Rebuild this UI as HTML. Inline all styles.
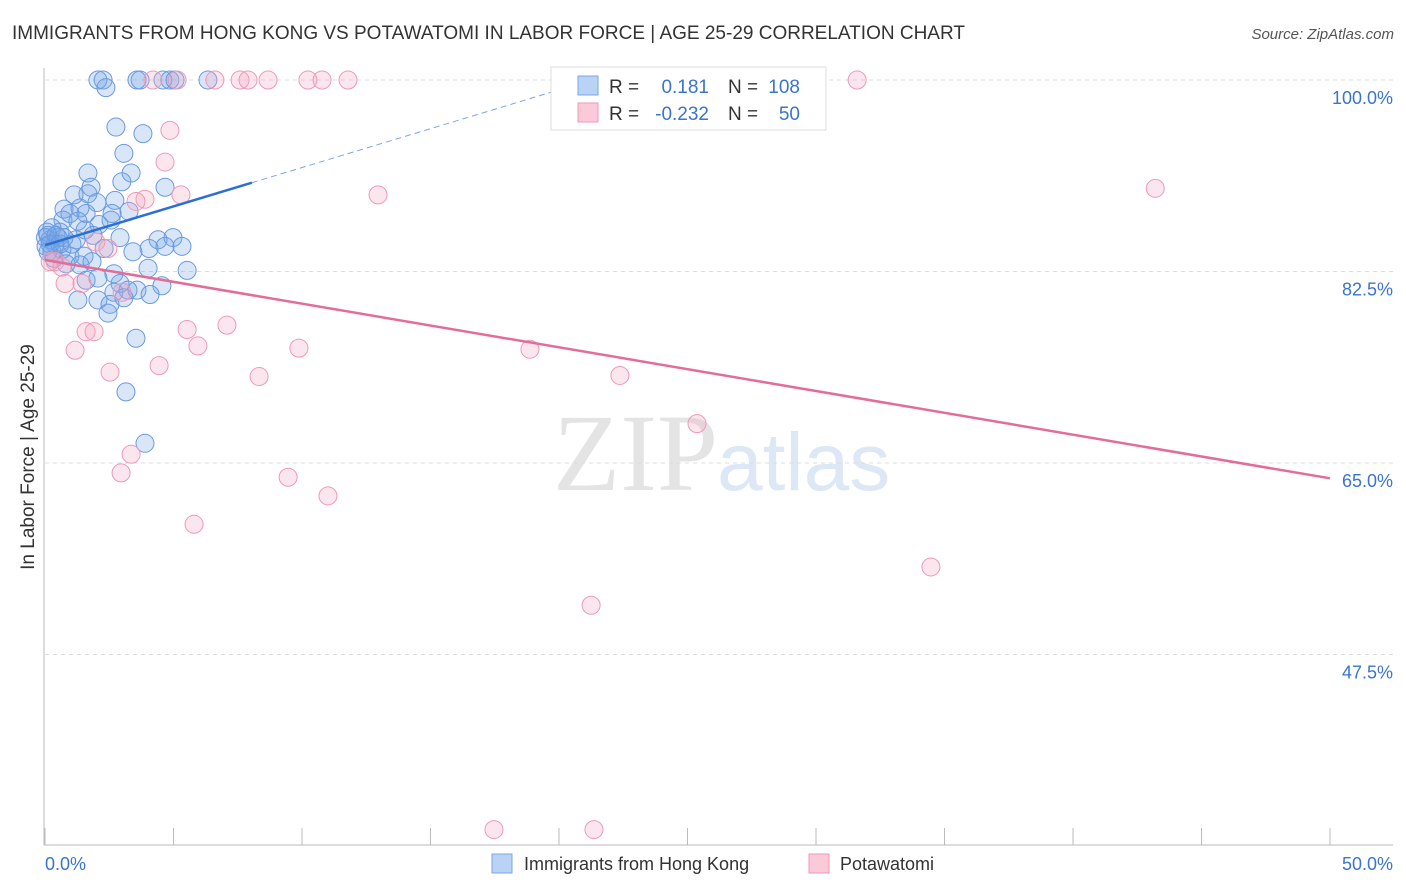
<!DOCTYPE html>
<html><head><meta charset="utf-8"><style>
body{margin:0;background:#fff;font-family:"Liberation Sans",sans-serif;}
svg{display:block}
</style></head><body>
<svg id="chart" width="1406" height="892">
<text x="12" y="39" font-size="19" fill="#333">IMMIGRANTS FROM HONG KONG VS POTAWATOMI IN LABOR FORCE | AGE 25-29 CORRELATION CHART</text>
<text x="1394" y="39" font-size="15" fill="#555" font-style="italic" text-anchor="end">Source: ZipAtlas.com</text>
<g>
<text x="553" y="490" font-size="110" fill="#e4e4e4" font-family="Liberation Serif,serif">ZIP</text>
<text x="717" y="490" font-size="82" fill="#dde8f6">atlas</text>
</g>
<g id="grid"></g>
<line x1="44" y1="68" x2="44" y2="845" stroke="#bbb"/>
<line x1="44" y1="845" x2="1393" y2="845" stroke="#bbb"/>
<g id="xticks"></g>
<text transform="translate(34,457) rotate(-90)" font-size="19" fill="#333" text-anchor="middle">In Labor Force | Age 25-29</text>
<g id="pts"></g>
<g id="trend"></g>
<g>
<rect x="551" y="67" width="275" height="63" fill="#fff" stroke="#ddd"/>
<rect x="578" y="76" width="20" height="19" fill="#b9d3f5" stroke="#7aa7e6"/>
<rect x="578" y="103" width="20" height="19" fill="#fbc9d8" stroke="#ee9ab5"/>
<text x="609" y="93" font-size="19" fill="#333">R =</text>
<text x="709" y="93" font-size="19" fill="#3a74d0" text-anchor="end">0.181</text>
<text x="728" y="93" font-size="19" fill="#333">N =</text>
<text x="800" y="93" font-size="19" fill="#3a74d0" text-anchor="end">108</text>
<text x="609" y="120" font-size="19" fill="#333">R =</text>
<text x="709" y="120" font-size="19" fill="#3a74d0" text-anchor="end">-0.232</text>
<text x="728" y="120" font-size="19" fill="#333">N =</text>
<text x="800" y="120" font-size="19" fill="#3a74d0" text-anchor="end">50</text>
</g>
<g>
<rect x="492" y="854" width="20" height="19" fill="#b9d3f5" stroke="#7aa7e6"/>
<text x="524" y="870" font-size="18" fill="#333">Immigrants from Hong Kong</text>
<rect x="809" y="854" width="20" height="19" fill="#fbc9d8" stroke="#ee9ab5"/>
<text x="840" y="870" font-size="18" fill="#333">Potawatomi</text>
</g>
</svg>
<script>
const yTicks=[100,82.5,65,47.5];
const yTickLabels=["100.0%","82.5%","65.0%","47.5%"];
const xEnds=[0,50];
const xEndLabels=["0.0%","50.0%"];
const blueX=[2.06,2.26,2.37,3.58,3.70,4.59,4.86,5.06,6.34,2.76,3.81,3.07,3.35,1.67,2.99,4.67,1.79,1.13,1.67,2.72,2.02,0.74,1.36,1.60,0.97,2.61,3.27,0.70,1.28,2.57,2.10,0.27,0.58,1.56,1.87,2.92,4.40,4.98,5.33,4.67,4.05,3.42,2.30,1.21,0.19,0.12,0.39,0.66,0.97,1.52,0.35,0.04,0.08,0.51,0.82,1.36,1.83,4.01,5.53,2.68,1.60,2.06,2.92,3.58,4.55,3.23,2.68,4.09,3.07,1.28,2.06,2.53,2.45,3.54,3.15,3.89,0.02,0.20,0.43,0.27,0.58,0.12,0.74,1.05];
const blueY=[100,100,99.3,100,100,100,100,100,100,95.7,95.1,93.3,91.5,91.5,90.7,90.2,90.2,89.5,89.6,89.0,88.8,88.2,88.3,87.8,87.8,87.8,88.0,87.2,87.1,87.2,86.8,86.5,86.1,86.3,85.8,85.6,85.4,85.6,84.8,84.8,84.6,84.3,84.6,85.4,85.4,85.8,85.0,84.5,83.9,83.9,83.7,84.8,86.1,85.6,83.2,83.1,83.4,82.8,82.6,82.3,81.7,81.9,81.4,80.8,81.2,80.8,80.6,80.4,80.1,79.9,79.9,79.5,78.7,76.4,71.5,66.8,85.6,85.0,85.8,84.3,85.0,84.3,85.6,85.0];
const pinkX=[4.20,5.14,6.61,7.59,7.90,8.68,10.23,10.78,11.79,31.6,4.86,4.67,3.89,5.29,12.96,3.54,43.2,1.98,2.45,0.39,0.78,1.44,3.00,1.60,1.91,5.53,7.08,1.17,5.95,9.88,18.87,2.53,4.44,8.33,22.37,25.37,3.35,2.96,9.46,11.01,5.80,34.47,21.25,17.47,21.36,0.20,0.66];
const pinkY=[100,100,100,100,100,100,100,100,100,100,95.4,92.5,89.1,89.5,89.5,88.9,90.1,85.2,84.6,83.4,81.4,81.4,80.6,77.0,77.0,77.2,77.6,75.3,75.7,75.5,75.4,73.3,73.9,72.9,73.0,68.6,65.8,64.1,63.7,62.0,59.4,55.5,52.0,31.5,31.5,83.4,82.9];
const blueTrend=[84.9,0.71];   // intercept, slope
const pinkTrend=[83.55,-0.399];
const X=v=>45+v/50*1285;
const Y=v=>80+(100-v)/17.5*191.5;
const NS="http://www.w3.org/2000/svg";
function mk(tag,attrs,parent){const e=document.createElementNS(NS,tag);for(const k in attrs)e.setAttribute(k,attrs[k]);parent.appendChild(e);return e;}
const grid=document.getElementById('grid');
yTicks.forEach((t,i)=>{
 const l=mk('line',{x1:45,x2:1393,y1:Y(t),y2:Y(t),stroke:'#ddd','stroke-dasharray':'4,4'},grid);
 
 
 const tx=mk('text',{x:1393,y:Y(t)+24,'font-size':18,fill:'#3a74d0','text-anchor':'end'},grid);
 tx.textContent=yTickLabels[i];
 
 
});
const xt=document.getElementById('xticks');
for(let i=0;i<=10;i++){
 const l=mk('line',{x1:X(i*5),x2:X(i*5),y1:828,y2:845,stroke:'#bbb'},xt);
 
 
}
xEnds.forEach((v,i)=>{
 const tx=mk('text',{x:i?1393:45,y:870,'font-size':18,fill:'#3a74d0','text-anchor':i?'end':'start'},xt);
 tx.textContent=xEndLabels[i];
 
 
});
const pts=document.getElementById('pts');
blueX.forEach((v,i)=>{
 const c=mk('circle',{cx:X(v),cy:Y(blueY[i]),r:9,fill:'rgba(120,165,230,0.28)',stroke:'#6a9ae0','stroke-width':1},pts);
 
 
});
pinkX.forEach((v,i)=>{
 const c=mk('circle',{cx:X(v),cy:Y(pinkY[i]),r:9,fill:'rgba(245,165,195,0.28)',stroke:'#ee9ab5','stroke-width':1},pts);
 
 
});
const tr=document.getElementById('trend');
const bEnd=8.05, bTop=(100-blueTrend[0])/blueTrend[1];
const b1=mk('line',{x1:X(0),y1:Y(blueTrend[0]),x2:X(bEnd),y2:Y(blueTrend[0]+blueTrend[1]*bEnd),stroke:'#2b6fd6','stroke-width':2.5},tr);


const b2=mk('line',{x1:X(bEnd),y1:Y(blueTrend[0]+blueTrend[1]*bEnd),x2:X(bTop),y2:Y(100),stroke:'#7aa7e6','stroke-width':1,'stroke-dasharray':'6,4'},tr);


const p1=mk('line',{x1:X(0),y1:Y(pinkTrend[0]),x2:X(50),y2:Y(pinkTrend[0]+pinkTrend[1]*50),stroke:'#e46c98','stroke-width':2.5},tr);


</script>
</body></html>
